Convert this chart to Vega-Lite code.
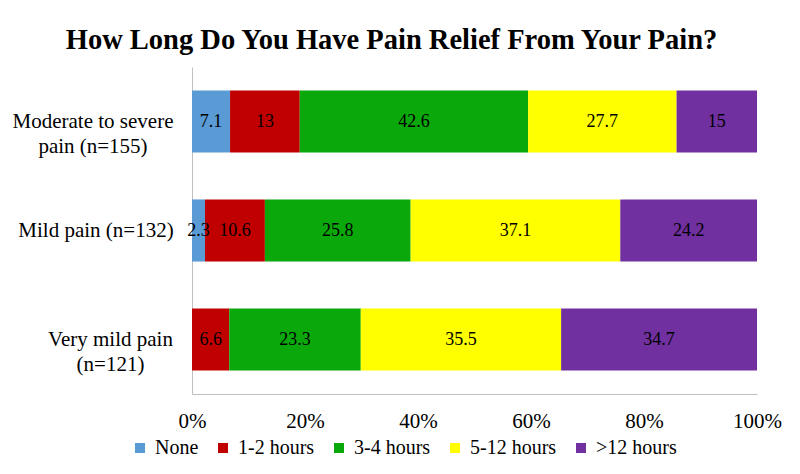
{
  "$schema": "https://vega.github.io/schema/vega-lite/v6.json",
  "width": 565,
  "height": 327,
  "autosize": {"type": "none"},
  "padding": {"left": 192, "top": 67, "right": 43, "bottom": 80},
  "background": "white",
  "title": {
    "text": "How Long Do You Have Pain Relief From Your Pain?",
    "font": "Liberation Serif, 'Times New Roman', serif",
    "fontSize": 28.5,
    "fontWeight": "bold",
    "color": "black",
    "anchor": "middle",
    "baseline": "alphabetic",
    "offset": 15,
    "dx": -83,
    "dy": 25
  },
  "data": {
    "values": [
      {"group": "Moderate to severe pain (n=155)", "duration": "None", "order": 1, "value": 7.1},
      {"group": "Moderate to severe pain (n=155)", "duration": "1-2 hours", "order": 2, "value": 13},
      {"group": "Moderate to severe pain (n=155)", "duration": "3-4 hours", "order": 3, "value": 42.6},
      {"group": "Moderate to severe pain (n=155)", "duration": "5-12 hours", "order": 4, "value": 27.7},
      {"group": "Moderate to severe pain (n=155)", "duration": ">12 hours", "order": 5, "value": 15},
      {"group": "Mild pain (n=132)", "duration": "None", "order": 1, "value": 2.3},
      {"group": "Mild pain (n=132)", "duration": "1-2 hours", "order": 2, "value": 10.6},
      {"group": "Mild pain (n=132)", "duration": "3-4 hours", "order": 3, "value": 25.8},
      {"group": "Mild pain (n=132)", "duration": "5-12 hours", "order": 4, "value": 37.1},
      {"group": "Mild pain (n=132)", "duration": ">12 hours", "order": 5, "value": 24.2},
      {"group": "Very mild pain (n=121)", "duration": "1-2 hours", "order": 2, "value": 6.6},
      {"group": "Very mild pain (n=121)", "duration": "3-4 hours", "order": 3, "value": 23.3},
      {"group": "Very mild pain (n=121)", "duration": "5-12 hours", "order": 4, "value": 35.5},
      {"group": "Very mild pain (n=121)", "duration": ">12 hours", "order": 5, "value": 34.7}
    ]
  },
  "transform": [
    {"stack": "value", "groupby": ["group"], "sort": [{"field": "order", "order": "ascending"}], "offset": "normalize", "as": ["x0", "x1"]},
    {"calculate": "(datum.x0 + datum.x1) / 2", "as": "xmid"}
  ],
  "encoding": {
    "y": {
      "field": "group",
      "type": "nominal",
      "sort": ["Moderate to severe pain (n=155)", "Mild pain (n=132)", "Very mild pain (n=121)"],
      "title": null,
      "scale": {"paddingInner": 0.43, "paddingOuter": 0.215},
      "axis": {
        "domainColor": "#BFBFBF",
        "domainWidth": 1,
        "ticks": false,
        "tickSize": 0,
        "labelFont": "Liberation Serif, 'Times New Roman', serif",
        "labelFontSize": 21,
        "labelColor": "black",
        "labelLimit": 300,
        "labelLineHeight": 25,
        "labelAlign": "center",
        "labelPadding": {
          "condition": [
            {"test": "datum.value == 'Moderate to severe pain (n=155)'", "value": 99.5},
            {"test": "datum.value == 'Very mild pain (n=121)'", "value": 82}
          ],
          "value": 96.5
        },
        "labelExpr": "datum.value == 'Moderate to severe pain (n=155)' ? ['Moderate to severe', 'pain (n=155)'] : datum.value == 'Very mild pain (n=121)' ? ['Very mild pain', '(n=121)'] : datum.value"
      }
    }
  },
  "layer": [
    {
      "mark": {"type": "bar"},
      "encoding": {
        "x": {
          "field": "x0",
          "type": "quantitative",
          "scale": {"domain": [0, 1]},
          "title": null,
          "axis": {
            "format": "%",
            "values": [0, 0.2, 0.4, 0.6, 0.8, 1],
            "grid": false,
            "ticks": false,
            "tickSize": 0,
            "domainColor": "#BFBFBF",
            "labelFont": "Liberation Serif, 'Times New Roman', serif",
            "labelFontSize": 21,
            "labelColor": "black",
            "labelPadding": 16,
            "labelFlush": false
          }
        },
        "x2": {"field": "x1"},
        "color": {
          "field": "duration",
          "type": "nominal",
          "scale": {
            "domain": ["None", "1-2 hours", "3-4 hours", "5-12 hours", ">12 hours"],
            "range": ["#5B9BD5", "#C00000", "#0AA80A", "#FFFF00", "#7030A0"]
          },
          "legend": {
            "title": null,
            "orient": "none",
            "legendX": -62,
            "legendY": 371,
            "direction": "horizontal",
            "symbolType": "square",
            "symbolSize": 100,
            "symbolStrokeWidth": 0,
            "labelFont": "Liberation Serif, 'Times New Roman', serif",
            "labelFontSize": 20,
            "labelColor": "black",
            "labelOffset": 5,
            "columnPadding": 14,
            "labelLimit": 200
          }
        }
      }
    },
    {
      "mark": {"type": "text", "font": "Liberation Serif, 'Times New Roman', serif", "fontSize": 18, "color": "black", "baseline": "middle", "align": "center"},
      "encoding": {
        "x": {"field": "xmid", "type": "quantitative"},
        "text": {"field": "value", "type": "quantitative"}
      }
    }
  ],
  "config": {
    "view": {"stroke": null}
  }
}
